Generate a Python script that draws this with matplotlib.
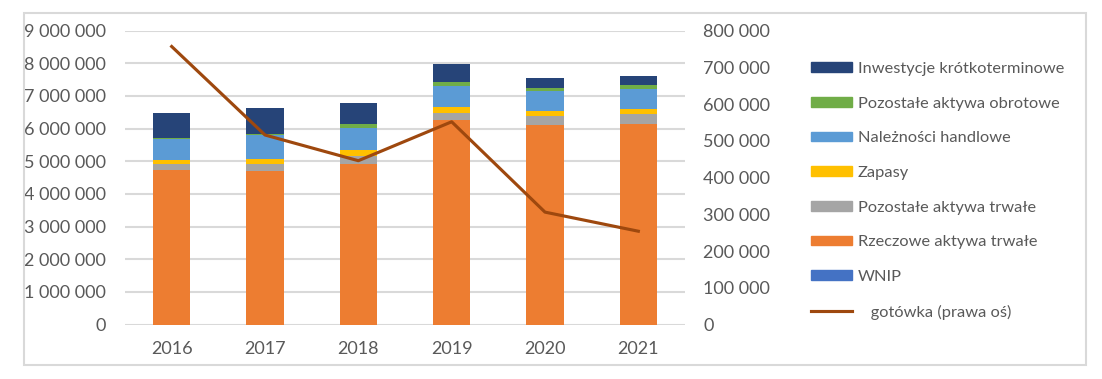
import matplotlib
matplotlib.use("Agg")
import matplotlib.pyplot as plt
from matplotlib.patches import Rectangle
from matplotlib.lines import Line2D
from matplotlib.ticker import FuncFormatter
import numpy as np

years = ["2016", "2017", "2018", "2019", "2020", "2021"]
wnip = [0, 0, 0, 0, 0, 0]
rzeczowe = [4730000, 4700000, 4930000, 6270000, 6110000, 6150000]
pozostale_trwale = [190000, 220000, 230000, 210000, 280000, 300000]
zapasy = [130000, 150000, 190000, 180000, 160000, 150000]
naleznosci = [630000, 740000, 680000, 650000, 600000, 610000]
pozostale_obrotowe = [40000, 30000, 120000, 130000, 100000, 130000]
inwestycje = [760000, 790000, 630000, 550000, 300000, 280000]
gotowka = [757000, 516000, 446000, 552000, 306000, 254000]

series = [
    ("WNIP", wnip, "#4472C4"),
    ("Rzeczowe aktywa trwałe", rzeczowe, "#ED7D31"),
    ("Pozostałe aktywa trwałe", pozostale_trwale, "#A5A5A5"),
    ("Zapasy", zapasy, "#FFC000"),
    ("Należności handlowe", naleznosci, "#5B9BD5"),
    ("Pozostałe aktywa obrotowe", pozostale_obrotowe, "#70AD47"),
    ("Inwestycje krótkoterminowe", inwestycje, "#264478"),
]
line_label = "gotówka (prawa oś)"
line_color = "#9E480E"
text_color = "#595959"
grid_color = "#D9D9D9"

plt.rcParams['font.family'] = ['Lato', 'DejaVu Sans']

W, H = 1102, 379
fig = plt.figure(figsize=(W / 100, H / 100), dpi=100)

# chart border
fig.patches.append(Rectangle((23.7 / W, 1 - 364.7 / H), (1086 - 23.7) / W, (364.7 - 13.3) / H,
                             transform=fig.transFigure, fill=False, edgecolor=grid_color, linewidth=1.5))

ax = fig.add_axes([125 / W, 1 - 324.5 / H, 560 / W, (324.5 - 30.7) / H])
x = np.arange(len(years))
bottom = np.zeros(len(years))
for name, vals, col in series:
    ax.bar(x, vals, bottom=bottom, width=0.4, color=col, label=name, zorder=3)
    bottom += np.array(vals)

ax.set_xlim(-0.5, len(years) - 0.5)
ax.set_ylim(0, 9000000)
ax.set_yticks(np.arange(0, 9000001, 1000000))
fmt = FuncFormatter(lambda v, p: f"{int(v):,}".replace(",", " "))
ax.yaxis.set_major_formatter(fmt)
ax.set_xticks(x)
ax.set_xticklabels(years)
ax.grid(axis='y', color=grid_color, linewidth=1.5, zorder=0)
for s in ax.spines.values():
    s.set_visible(False)
ax.tick_params(axis='both', length=0, labelsize=13, colors=text_color)
ax.tick_params(axis='y', pad=13.5)
ax.tick_params(axis='x', pad=12)

ax2 = ax.twinx()
ax2.plot(x, gotowka, color=line_color, linewidth=2.25, zorder=5)
ax2.set_ylim(0, 800000)
ax2.set_yticks(np.arange(0, 800001, 100000))
ax2.yaxis.set_major_formatter(fmt)
for s in ax2.spines.values():
    s.set_visible(False)
ax2.tick_params(axis='y', length=0, labelsize=13, colors=text_color, pad=13)

handles = [Rectangle((0, 0), 1, 1, color=c) for _, _, c in series[::-1]]
labels = [n for n, _, _ in series[::-1]]
handles.append(Line2D([0], [0], color=line_color, linewidth=2.25))
labels.append("   " + line_label)
leg = fig.legend(handles, labels, loc='upper left', bbox_to_anchor=(811 / W, 1 - 62 / H),
                 frameon=False, fontsize=11.8, labelcolor=text_color,
                 handlelength=2.5, handleheight=0.55, handletextpad=0.37,
                 labelspacing=1.26, borderaxespad=0, borderpad=0)

fig.savefig("out.png", dpi=100)
